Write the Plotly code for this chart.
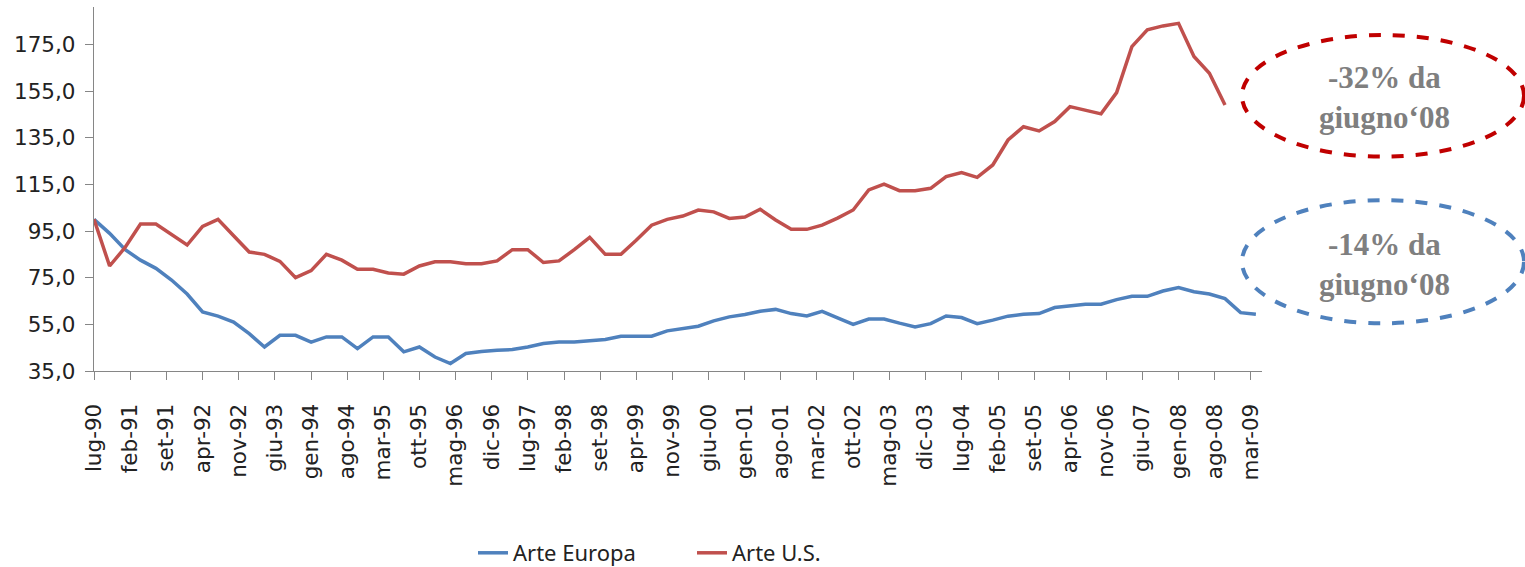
import pandas as pd
import plotly.graph_objects as go

# quarterly observations starting July 1990
europa = [100, 94, 87, 82.5, 79, 74, 68, 60.3, 58.5, 56, 51, 45.3, 50.3, 50.3, 47.4, 49.6,
          49.6, 44.6, 49.6, 49.6, 43.2, 45.3, 41, 38.2, 42.5, 43.4, 43.9, 44.2, 45.3, 46.8,
          47.4, 47.4, 48, 48.5, 49.9, 49.9, 49.9, 52.2, 53.2, 54.2, 56.5, 58.2, 59.2, 60.6,
          61.4, 59.6, 58.6, 60.6, 57.8, 55, 57.3, 57.3, 55.5, 53.9, 55.3, 58.6, 57.9, 55.3,
          56.8, 58.5, 59.3, 59.6, 62.2, 62.9, 63.6, 63.6, 65.6, 67, 67, 69.3, 70.8, 69, 68,
          66, 60, 59.3]
us = [100, 80, 88, 98, 98, 93.5, 89, 97, 100, 93, 86, 85, 82, 75, 78, 85, 82.5, 78.6, 78.6,
      77, 76.5, 80, 81.8, 81.8, 81, 81, 82.2, 87, 87, 81.5, 82.2, 87, 92.3, 85, 85, 91, 97.5,
      100, 101.4, 104, 103.2, 100.4, 101, 104.3, 99.7, 95.7, 95.7, 97.5, 100.5, 104, 112.6,
      115.1, 112.3, 112.3, 113.3, 118.3, 120, 118, 123.3, 134, 139.7, 137.9, 141.9, 148.3,
      146.9, 145.2, 154.3, 174, 181.2, 182.9, 184, 169.8, 162.6, 149]
dates = pd.date_range("1990-07-01", periods=len(europa), freq="QS")

x_labels = ["lug-90", "feb-91", "set-91", "apr-92", "nov-92", "giu-93", "gen-94", "ago-94",
            "mar-95", "ott-95", "mag-96", "dic-96", "lug-97", "feb-98", "set-98", "apr-99",
            "nov-99", "giu-00", "gen-01", "ago-01", "mar-02", "ott-02", "mag-03", "dic-03",
            "lug-04", "feb-05", "set-05", "apr-06", "nov-06", "giu-07", "gen-08", "ago-08",
            "mar-09"]
x_tickdates = pd.date_range("1990-07-01", periods=len(x_labels), freq="7MS")
y_ticks = [35, 55, 75, 95, 115, 135, 155, 175]
y_labels = ["35,0", "55,0", "75,0", "95,0", "115,0", "135,0", "155,0", "175,0"]

BLUE = "#4F81BD"
RED = "#C0504D"
AXIS = "#868686"

fig = go.Figure()
fig.add_trace(go.Scatter(x=dates, y=europa, mode="lines", name="Arte Europa",
                         line=dict(color=BLUE, width=3.5)))
fig.add_trace(go.Scatter(x=dates[:len(us)], y=us, mode="lines", name="Arte U.S.",
                         line=dict(color=RED, width=3.5)))

fig.update_layout(
    width=1525, height=567,
    margin=dict(l=94, r=263, t=7, b=196, autoexpand=False),
    paper_bgcolor="white", plot_bgcolor="white",
    showlegend=True,
    legend=dict(orientation="h", x=(473 - 94) / 1168, xanchor="left",
                y=-0.5, yanchor="middle",
                font=dict(family="Noto Sans", size=22, color="#222"),
                entrywidth=174, entrywidthmode="pixels"),
    xaxis=dict(type="date", range=["1990-07-01", "2009-05-07"],
               tickvals=list(x_tickdates), ticktext=x_labels, tickangle=-90,
               showline=True, linecolor=AXIS, linewidth=1.3,
               ticks="outside", ticklen=8, tickcolor=AXIS, tickwidth=1.3,
               showgrid=False, zeroline=False, ticklabelstandoff=15,
               tickfont=dict(family="DejaVu Sans", size=21.5, color="#222")),
    yaxis=dict(range=[35, 191], tickvals=y_ticks, ticktext=y_labels,
               showline=True, linecolor=AXIS, linewidth=1.3,
               ticks="outside", ticklen=8, tickcolor=AXIS, tickwidth=1.3,
               showgrid=False, zeroline=False, ticklabelstandoff=5,
               tickfont=dict(family="DejaVu Sans", size=21.5, color="#222")),
)

ell_x0 = (1242 - 94) / 1168
ell_x1 = (1524 - 94) / 1168
fig.add_shape(type="circle", xref="paper", yref="paper",
              x0=ell_x0, x1=ell_x1, y0=(370.7 - 156.5) / 363.7, y1=(370.7 - 35) / 363.7,
              line=dict(color="#C00000", width=4, dash="dash"))
fig.add_shape(type="circle", xref="paper", yref="paper",
              x0=ell_x0, x1=ell_x1, y0=(370.7 - 323) / 363.7, y1=(370.7 - 200) / 363.7,
              line=dict(color=BLUE, width=4, dash="dash"))

ann_font = dict(family="Liberation Serif", size=31, color="#7F7F7F")
fig.add_annotation(xref="paper", yref="paper", x=(1385 - 94) / 1168, y=(370.7 - 97) / 363.7,
                   text="<b>-32% da<br>giugno‘08</b>", showarrow=False, font=ann_font,
                   xanchor="center", yanchor="middle")
fig.add_annotation(xref="paper", yref="paper", x=(1385 - 94) / 1168, y=(370.7 - 264) / 363.7,
                   text="<b>-14% da<br>giugno‘08</b>", showarrow=False, font=ann_font,
                   xanchor="center", yanchor="middle")

fig.write_html("out.html", config={"displayModeBar": False},
               post_script="document.body.style.margin='0';")
